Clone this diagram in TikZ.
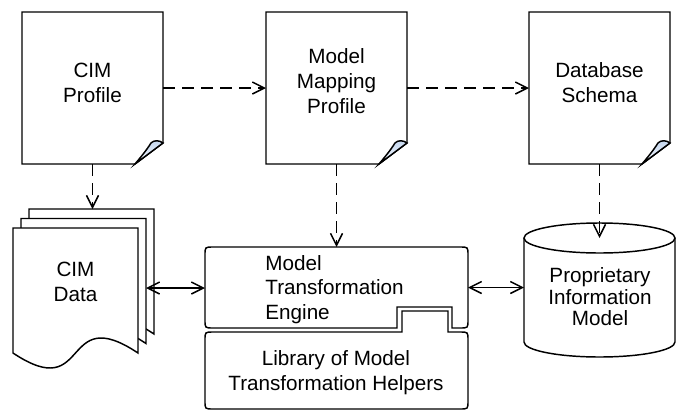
\documentclass[tikz,border=0pt]{standalone}
\usepackage{fontspec}
\setmainfont{Liberation Sans}
\usetikzlibrary{arrows.meta,calc}

\definecolor{curlblue}{RGB}{196,214,238}

\tikzset{
  shapeline/.style={draw=black, line width=1.1pt, line join=miter},
  frame/.style={draw=none, rectangle, inner sep=0pt, outer sep=0pt},
  labeltext/.style={inner sep=0pt, align=center, font=\fontsize{15.5pt}{18.75pt}\selectfont},
  barb/.tip={Straight Barb[length=9pt,width=9pt,line width=1.1pt]},
  dlink/.style={line width=1.1pt, dash pattern=on 9pt off 5.25pt, -barb},
  mutual/.style={line width=1.1pt, barb-barb},
  % folded sheet with a curled lower right corner
  pics/paper/.style={code={
    \fill[white] (0,0) -- (141,0) -- (141,131) -- (113,152) -- (0,152) -- cycle;
    \draw[shapeline] (0,0) -- (141,0) -- (141,131) -- (113,152) -- (0,152) -- cycle;
    \draw[line width=1.1pt, top color=curlblue, bottom color=white, middle color=curlblue!60]
      (141,131) .. controls (137,128) and (132,128) .. (129,131)
      .. controls (124,139) and (118,146) .. (113,152) -- cycle;
  }},
  % data sheet with a wavy lower edge
  pics/datasheet/.style={code={
    \draw[shapeline, fill=white] (0,0) -- (125,0) -- (125,125)
      .. controls (47,73) and (78,177) .. (0,125) -- cycle;
  }}
}

\begin{document}
\begin{tikzpicture}[x=0.75pt, y=-0.75pt]
\useasboundingbox (0,0) rectangle (679,411);

% ---- source documents
\node[frame, minimum width=105.75pt, minimum height=114pt] (cimprof) at (92.5,88) {};
\pic at (cimprof.north west) {paper};
\node[labeltext] (cimprof-t) at (92.5,83) {CIM\\Profile};

\node[frame, minimum width=105.75pt, minimum height=114pt] (mapping) at (336.5,88) {};
\pic at (mapping.north west) {paper};
\node[labeltext] (mapping-t) at (336.5,81) {Model\\Mapping\\Profile};

\node[frame, minimum width=105.75pt, minimum height=114pt] (schema) at (599.5,88) {};
\pic at (schema.north west) {paper};
\node[labeltext] (schema-t) at (599.5,82.5) {Database\\Schema};

% ---- stack of data sheets
\pic at (29,209) {datasheet};
\pic at (21,218.5) {datasheet};
\pic at (13,228) {datasheet};
\node[frame, minimum width=93.75pt, minimum height=93.75pt] (cimdata) at (75.5,290.5) {};
\node[labeltext] (cimdata-t) at (75.5,282) {CIM\\Data};
\coordinate (stacktop) at (91.5,209);
\coordinate (stackright) at (146,288);

% ---- transformation engine and helper library
\draw[shapeline, fill=white]
  (213,247) -- (460,247) .. controls (468,247) .. (468,255) -- (468,320)
  .. controls (468,328) .. (460,328) -- (452,328) -- (452,307) -- (397,307)
  -- (397,328) -- (213,328) .. controls (205,328) .. (205,320) -- (205,255)
  .. controls (205,247) .. (213,247) -- cycle;
\node[frame, minimum width=197.25pt, minimum height=60.75pt] (engine) at (336.5,287.5) {};
\node[labeltext, align=left, font=\fontsize{15.5pt}{18.5pt}\selectfont] (engine-t) at (334.5,289.5)
  {Model\\Transformation\\Engine};

\draw[shapeline, fill=white]
  (213,332) -- (402,332) -- (402,311) -- (448,311) -- (448,332) -- (460,332)
  .. controls (468,332) .. (468,340) -- (468,401) .. controls (468,409) .. (460,409)
  -- (213,409) .. controls (205,409) .. (205,401) -- (205,340)
  .. controls (205,332) .. (213,332) -- cycle;
\node[frame, minimum width=197.25pt, minimum height=57.75pt] (library) at (336.5,370.5) {};
\node[labeltext] (library-t) at (336,372.7) {Library of Model\\Transformation Helpers};

% ---- proprietary store
\fill[white] (524,238) -- (524,342) arc[start angle=180, end angle=0, x radius=75.5, y radius=15]
  -- (675,238) -- cycle;
\draw[shapeline] (524,238) -- (524,342) arc[start angle=180, end angle=0, x radius=75.5, y radius=15]
  -- (675,238);
\draw[shapeline, fill=white] (599.5,238) ellipse[x radius=75.5, y radius=15];
\node[frame, minimum width=113.25pt, minimum height=100.5pt] (store) at (599.5,290) {};
\node[labeltext, font=\fontsize{15.5pt}{16.1pt}\selectfont] (store-t) at (600,297)
  {Proprietary\\Information\\Model};
\coordinate (storetop) at (599.5,238);

% ---- connectors
\draw[dlink] (cimprof) -- (mapping);
\draw[dlink] (mapping) -- (schema);
\draw[dlink] (cimprof.south) -- (cimprof.south |- stacktop);
\draw[dlink] (mapping.south) -- (engine.north);
\draw[dlink] (schema.south) -- (storetop);
\draw[mutual] (stackright) -- (stackright -| engine.west);
\draw[mutual] (engine.east) -- (engine.east -| store.west);
\end{tikzpicture}
\end{document}
